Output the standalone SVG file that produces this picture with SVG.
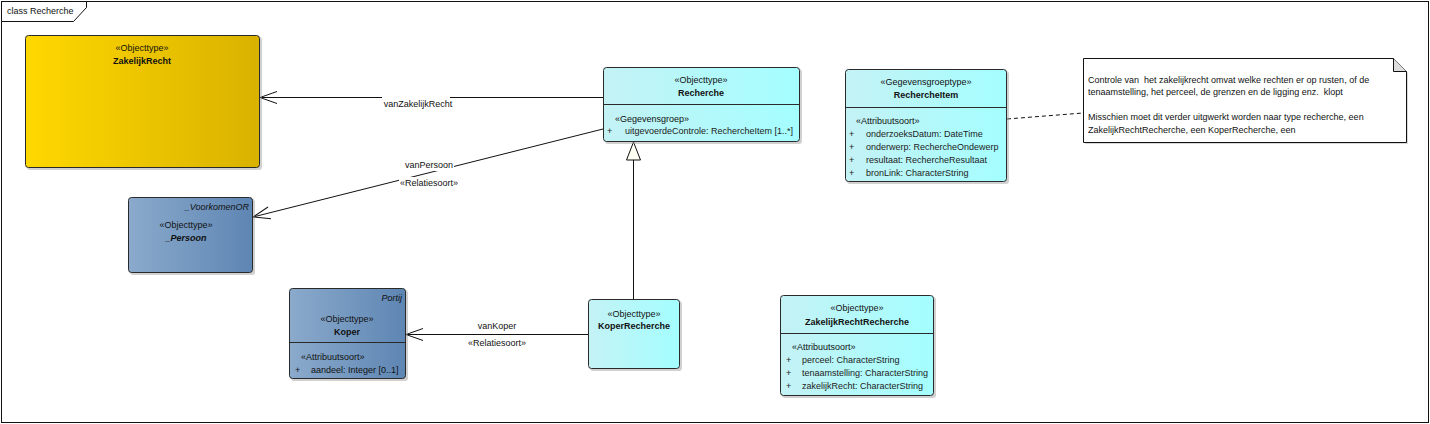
<svg xmlns="http://www.w3.org/2000/svg" width="1430" height="424" viewBox="0 0 1430 424">
<style>
text{font-family:"Liberation Sans",Arial,sans-serif;font-size:9px;fill:#111}
.b{font-weight:bold}
.i{font-style:italic}
.m{text-anchor:middle}
.e{text-anchor:end}
.box{stroke:#2a2a2a;stroke-width:1}
.sh{fill:#999;opacity:0.45}
.sep{stroke:#2a2a2a;stroke-width:1}
.ln{stroke:#111;stroke-width:1;fill:none}
.attr{fill:#222}
.lbl{fill:#fff}
.pre{white-space:pre}
</style>
<defs>
<linearGradient id="gold" x1="0" y1="0" x2="1" y2="0"><stop offset="0" stop-color="#FFD800"/><stop offset="1" stop-color="#D9B200"/></linearGradient>
<linearGradient id="cyan" x1="0" y1="0" x2="1" y2="0"><stop offset="0" stop-color="#C4F2F5"/><stop offset="1" stop-color="#A4FEFF"/></linearGradient>
<linearGradient id="blue" x1="0" y1="0" x2="1" y2="0"><stop offset="0" stop-color="#8BAACC"/><stop offset="1" stop-color="#5E86B3"/></linearGradient>
<marker id="open" markerUnits="userSpaceOnUse" markerWidth="20" markerHeight="14" refX="17" refY="6" orient="auto" overflow="visible"><path d="M0,0 L17,6 L0,12" fill="none" stroke="#111" stroke-width="1"/></marker>
<marker id="tri" markerUnits="userSpaceOnUse" markerWidth="20" markerHeight="16" refX="18" refY="7" orient="auto" overflow="visible"><path d="M0,0 L18,7 L0,14 Z" fill="#FFFFF4" stroke="#111" stroke-width="1"/></marker>
</defs>
<rect x="0" y="0" width="1430" height="424" fill="#fff"/>
<g id="frame">
<rect x="1.5" y="1.5" width="1427" height="421" fill="none" stroke="#111"/>
<path d="M1.5,1.5 H86.5 V7.5 L73.5,21.5 H1.5 Z" fill="#fff" stroke="#111"/>
<text x="7" y="14">class Recherche</text>
</g>
<g id="connectors">
<line class="ln" x1="603" y1="97.5" x2="260" y2="97.5" marker-end="url(#open)"/>
<rect class="lbl" x="382" y="94" width="68" height="15"/>
<text class="m" x="418" y="107">vanZakelijkRecht</text>
<line class="ln" x1="603" y1="129" x2="253" y2="217" marker-end="url(#open)"/>
<rect class="lbl" x="404" y="159" width="50" height="12"/>
<text class="m" x="429" y="168">vanPersoon</text>
<rect class="lbl" x="399" y="177" width="60" height="13"/>
<text class="m" x="429" y="186">«Relatiesoort»</text>
<line class="ln" x1="633.5" y1="299" x2="633.5" y2="142" marker-end="url(#tri)"/>
<line class="ln" x1="588" y1="334.5" x2="406" y2="334.5" marker-end="url(#open)"/>
<text class="m" x="497" y="329">vanKoper</text>
<text class="m" x="497" y="346">«Relatiesoort»</text>
<line class="ln" x1="1007" y1="119" x2="1083" y2="113" stroke-dasharray="4,3"/>
</g>
<g id="ZakelijkRecht">
<rect class="sh" x="27" y="37" width="235" height="133" rx="3"/>
<rect class="box" x="25.5" y="35.5" width="234" height="132" rx="3" fill="url(#gold)"/>
<text class="m" x="142" y="51">«Objecttype»</text>
<text class="m b" x="142" y="64">ZakelijkRecht</text>
</g>
<g id="Recherche">
<rect class="sh" x="605" y="69" width="197" height="75" rx="3"/>
<rect class="box" x="603.5" y="67.5" width="196" height="74" rx="3" fill="url(#cyan)"/>
<line class="sep" x1="603.5" y1="104.5" x2="799.5" y2="104.5"/>
<text class="m" x="701" y="83">«Objecttype»</text>
<text class="m b" x="701" y="96">Recherche</text>
<text x="615" y="122">«Gegevensgroep»</text>
<text class="attr" x="607" y="134">+</text>
<text class="attr" x="625" y="134">uitgevoerdeControle: RechercheItem [1..*]</text>
</g>
<g id="Persoon">
<rect class="sh" x="130" y="199" width="125" height="76" rx="3"/>
<rect class="box" x="128.5" y="197.5" width="124" height="75" rx="3" fill="url(#blue)"/>
<text class="e i" x="249" y="210">_VoorkomenOR</text>
<text class="m" x="186" y="228">«Objecttype»</text>
<text class="m b i" x="186" y="241">_Persoon</text>
</g>
<g id="Koper">
<rect class="sh" x="291" y="290" width="117" height="91" rx="3"/>
<rect class="box" x="289.5" y="288.5" width="116" height="90" rx="3" fill="url(#blue)"/>
<line class="sep" x1="289.5" y1="342.5" x2="405.5" y2="342.5"/>
<text class="e i" x="402" y="301">Portij</text>
<text class="m" x="347" y="322">«Objecttype»</text>
<text class="m b" x="347" y="335">Koper</text>
<text x="301" y="360">«Attribuutsoort»</text>
<text x="295" y="373" fill="#3a4a5e">+</text>
<text x="311" y="373" fill="#3a4a5e">aandeel: Integer [0..1]</text>
</g>
<g id="KoperRecherche">
<rect class="sh" x="590" y="301" width="92" height="70" rx="3"/>
<rect class="box" x="588.5" y="299.5" width="91" height="69" rx="3" fill="url(#cyan)"/>
<text class="m" x="634" y="317">«Objecttype»</text>
<text class="m b" x="634" y="329">KoperRecherche</text>
</g>
<g id="RechercheItem">
<rect class="sh" x="847" y="71" width="162" height="113" rx="3"/>
<rect class="box" x="845.5" y="69.5" width="161" height="112" rx="3" fill="url(#cyan)"/>
<line class="sep" x1="845.5" y1="107.5" x2="1006.5" y2="107.5"/>
<text class="m" x="926" y="85">«Gegevensgroeptype»</text>
<text class="m b" x="926" y="98">RechercheItem</text>
<text x="856" y="124">«Attribuutsoort»</text>
<text class="attr" x="849" y="137">+</text><text class="attr" x="866" y="137">onderzoeksDatum: DateTime</text>
<text class="attr" x="849" y="150">+</text><text class="attr" x="866" y="150">onderwerp: RechercheOndewerp</text>
<text class="attr" x="849" y="163">+</text><text class="attr" x="866" y="163">resultaat: RechercheResultaat</text>
<text class="attr" x="849" y="176">+</text><text class="attr" x="866" y="176">bronLink: CharacterString</text>
</g>
<g id="ZakelijkRechtRecherche">
<rect class="sh" x="782" y="297" width="154" height="101" rx="3"/>
<rect class="box" x="780.5" y="295.5" width="153" height="100" rx="3" fill="url(#cyan)"/>
<line class="sep" x1="780.5" y1="333.5" x2="933.5" y2="333.5"/>
<text class="m" x="857" y="311">«Objecttype»</text>
<text class="m b" x="857" y="325">ZakelijkRechtRecherche</text>
<text x="792" y="350">«Attribuutsoort»</text>
<text class="attr" x="786" y="363">+</text><text class="attr" x="802" y="363">perceel: CharacterString</text>
<text class="attr" x="786" y="376">+</text><text class="attr" x="802" y="376">tenaamstelling: CharacterString</text>
<text class="attr" x="786" y="389">+</text><text class="attr" x="802" y="389">zakelijkRecht: CharacterString</text>
</g>
<g id="note">
<path d="M1085,60 H1395 L1408,73 V144 H1085 Z" fill="#aaa" opacity="0.45"/>
<path d="M1083.5,58.5 H1393.5 L1406.5,71.5 V142.5 H1083.5 Z" fill="#fff" stroke="#111"/>
<path d="M1393.5,58.5 V71.5 H1406.5" fill="#ddd" stroke="#111"/>
<text class="pre" x="1088" y="83" xml:space="preserve">Controle van  het zakelijkrecht omvat welke rechten er op rusten, of de</text>
<text class="pre" x="1088" y="95" xml:space="preserve">tenaamstelling, het perceel, de grenzen en de ligging enz.  klopt</text>
<text x="1088" y="120">Misschien moet dit verder uitgwerkt worden naar type recherche, een</text>
<text x="1088" y="133">ZakelijkRechtRecherche, een KoperRecherche, een</text>
</g>
</svg>
